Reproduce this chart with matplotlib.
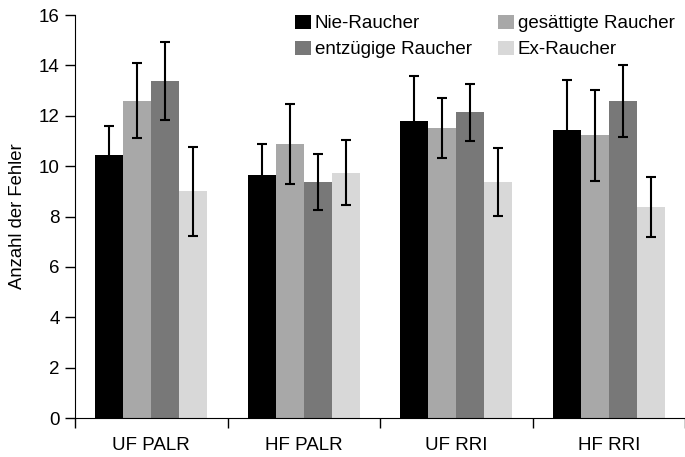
import numpy as np
import matplotlib.pyplot as plt

plt.rcParams['font.family'] = ['Liberation Sans', 'DejaVu Sans']

categories = ["UF PALR", "HF PALR", "UF RRI", "HF RRI"]
groups = ["Nie-Raucher", "gesättigte Raucher", "entzügige Raucher", "Ex-Raucher"]
colors = ["#000000", "#a8a8a8", "#787878", "#d8d8d8"]

nie = [10.44, 9.64, 11.79, 11.43]
nie_err = [1.15, 1.26, 1.78, 1.98]
gesaettigt = [12.6, 10.87, 11.51, 11.23]
gesaettigt_err = [1.5, 1.58, 1.2, 1.8]
entzug = [13.37, 9.37, 12.14, 12.58]
entzug_err = [1.55, 1.12, 1.13, 1.43]
ex = [9.0, 9.73, 9.37, 8.37]
ex_err = [1.77, 1.29, 1.35, 1.19]

values = [nie, gesaettigt, entzug, ex]
errors = [nie_err, gesaettigt_err, entzug_err, ex_err]

fs = 13.5
fig = plt.figure(figsize=(6.85, 4.57), dpi=100)
ax = fig.add_axes([0.1095, 0.0853, 0.8905, 0.8817])

x = np.arange(len(categories)) + 0.5
w = 0.183
bars = []
for k in range(4):
    b = ax.bar(x + (k - 1.5) * w, values[k], w, color=colors[k], label=groups[k],
               yerr=errors[k], capsize=3.6,
               error_kw=dict(ecolor="black", elinewidth=1.5, capthick=1.5))
    bars.append(b)

ax.set_xlim(0, 4)
ax.set_ylim(0, 16)
ax.set_yticks(range(0, 17, 2))
ax.set_xticks(range(0, 5))
ax.set_xticklabels([])
ax.set_xticks(x, minor=True)
ax.set_xticklabels(categories, minor=True)
ax.tick_params(axis="x", which="major", direction="out", length=7, width=1)
ax.tick_params(axis="x", which="minor", length=0, pad=14, labelsize=fs)
ax.tick_params(axis="y", direction="out", length=7, width=1, pad=4, labelsize=fs)
ax.spines["top"].set_visible(False)
ax.spines["right"].set_visible(False)
ax.set_ylabel("Anzahl der Fehler", fontsize=13.3, labelpad=9)

order = [0, 2, 1, 3]
ax.legend([bars[i] for i in order], [groups[i] for i in order], ncol=2,
          frameon=False, loc="upper left", bbox_to_anchor=(295 / 685, 1 - 15 / 457),
          bbox_transform=fig.transFigure, borderpad=0, borderaxespad=0,
          fontsize=fs, handlelength=0.85, handleheight=0.75, handletextpad=0.2,
          columnspacing=1.4, labelspacing=0.45)

fig.savefig("out.png", dpi=100)
